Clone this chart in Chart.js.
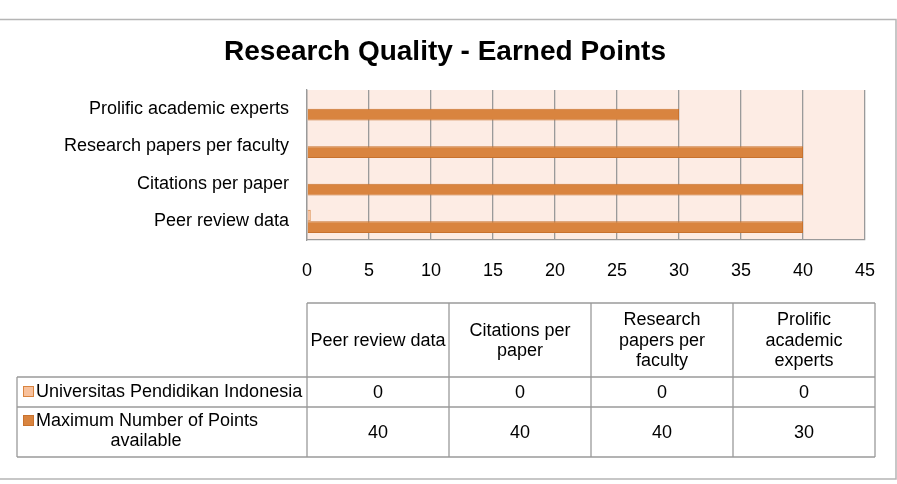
<!DOCTYPE html>
<html>
<head>
<meta charset="utf-8">
<script src="https://cdn.jsdelivr.net/npm/chart.js@4/dist/chart.umd.min.js"></script>
<style>
  html, body { margin: 0; padding: 0; background: #fff; }
  canvas { display: block; }
</style>
</head>
<body>
<canvas id="c" width="897" height="484"></canvas>
<script>
// ---- Data ----
const categories = ["Peer review data", "Citations per paper", "Research papers per faculty", "Prolific academic experts"];
const tableHeaders = [["Peer review data"], ["Citations per", "paper"], ["Research", "papers per", "faculty"], ["Prolific", "academic", "experts"]];
const seriesNames = ["Universitas Pendidikan Indonesia", "Maximum Number of Points available"];
const seriesLegendLines = [["Universitas Pendidikan Indonesia"], ["Maximum Number of Points", "available"]];
const upiValues = [0.3, 0, 0, 0];
const maxValues = [40, 40, 40, 30];
const xTicks = [0, 5, 10, 15, 20, 25, 30, 35, 40, 45];

const FONT = '"Liberation Sans", Arial, sans-serif';
const colors = {
  light: '#F8C19C', lightBorder: '#D9843F',
  dark: '#D9843F', darkBorder: '#C8722E',
  plotBg: '#FDECE4', grid: '#9a9a9a', table: '#9a9a9a', frame: '#b5b5b5'
};

const bgPlugin = {
  id: 'bg',
  beforeDraw(chart) {
    const { ctx, chartArea: a } = chart;
    ctx.save();
    ctx.fillStyle = colors.plotBg;
    ctx.fillRect(a.left, a.top, a.right - a.left, a.bottom - a.top);
    ctx.strokeStyle = colors.frame;
    ctx.lineWidth = 1.5;
    ctx.strokeRect(-2, 19.5, 898, 459.5);
    ctx.restore();
  }
};

const tablePlugin = {
  id: 'dataTable',
  afterDraw(chart) {
    const { ctx, chartArea: a } = chart;
    const left = a.left, colW = 142, nCols = categories.length;
    const right = left + colW * nCols;
    const legendLeft = 17;
    const yH = 303, y1 = 377, y2 = 407, y3 = 457;
    ctx.save();
    ctx.strokeStyle = colors.table;
    ctx.lineWidth = 1.3;
    ctx.beginPath();
    ctx.moveTo(left, yH); ctx.lineTo(right, yH);
    ctx.moveTo(legendLeft, y1); ctx.lineTo(right, y1);
    ctx.moveTo(legendLeft, y2); ctx.lineTo(right, y2);
    ctx.moveTo(legendLeft, y3); ctx.lineTo(right, y3);
    for (let i = 0; i <= nCols; i++) {
      const x = left + colW * i;
      ctx.moveTo(x, yH); ctx.lineTo(x, y3);
    }
    ctx.moveTo(legendLeft, y1); ctx.lineTo(legendLeft, y3);
    ctx.stroke();

    ctx.fillStyle = '#000';
    ctx.font = '18px ' + FONT;
    ctx.textAlign = 'center';
    ctx.textBaseline = 'middle';
    tableHeaders.forEach((lines, i) => {
      const cx = left + colW * i + colW / 2;
      const cy = (yH + y1) / 2 + 1;
      const lh = 20.5;
      lines.forEach((ln, j) => {
        ctx.fillText(ln, cx, cy + (j - (lines.length - 1) / 2) * lh);
      });
    });
    const rows = [upiValues, maxValues];
    const rowCenters = [(y1 + y2) / 2 + 1, (y2 + y3) / 2 + 1];
    rows.forEach((vals, r) => {
      vals.forEach((v, i) => {
        ctx.fillText(String(Math.round(v)), left + colW * i + colW / 2, rowCenters[r]);
      });
    });
    const sw = [[colors.light, colors.lightBorder], [colors.dark, colors.darkBorder]];
    const firstLineY = [392, 421];
    seriesLegendLines.forEach((lines, r) => {
      ctx.fillStyle = sw[r][0];
      ctx.strokeStyle = sw[r][1];
      ctx.lineWidth = 1;
      ctx.fillRect(23, firstLineY[r] - 6, 10, 10);
      ctx.strokeRect(23.5, firstLineY[r] - 5.5, 10, 10);
      ctx.fillStyle = '#000';
      lines.forEach((ln, j) => {
        if (j === 0) {
          ctx.textAlign = 'left';
          ctx.fillText(ln, 36, firstLineY[r]);
        } else {
          ctx.textAlign = 'center';
          ctx.fillText(ln, 146, firstLineY[r] + 20 * j);
        }
      });
    });
    ctx.restore();
  }
};

new Chart(document.getElementById('c'), {
  type: 'bar',
  data: {
    labels: categories,
    datasets: [
      { label: seriesNames[0], data: upiValues, backgroundColor: colors.light, borderColor: colors.lightBorder, borderWidth: 1 },
      { label: seriesNames[1], data: maxValues, backgroundColor: colors.dark, borderColor: colors.darkBorder, borderWidth: 1 }
    ]
  },
  options: {
    indexAxis: 'y',
    responsive: false,
    animation: false,
    events: [],
    layout: { padding: { left: 25, right: 32, top: 0, bottom: 194 } },
    datasets: { bar: { categoryPercentage: 0.62, barPercentage: 1.0 } },
    plugins: {
      legend: { display: false },
      tooltip: { enabled: false },
      title: {
        display: true,
        text: 'Research Quality - Earned Points',
        color: '#000',
        font: { family: FONT, size: 28, weight: 'bold', lineHeight: 1.2 },
        padding: { top: 35, bottom: 21.4 }
      }
    },
    scales: {
      x: {
        min: 0, max: 45,
        afterBuildTicks(scale) { scale.ticks = xTicks.map(v => ({ value: v })); },
        grid: { color: colors.grid, lineWidth: 1.3, drawTicks: false },
        border: { display: true, color: colors.grid, width: 1.3 },
        ticks: { color: '#000', font: { family: FONT, size: 18 }, padding: 20, maxRotation: 0 },
        afterFit(scale) { scale.height = 50; }
      },
      y: {
        reverse: true,
        grid: { display: false, drawTicks: false },
        border: { display: true, color: colors.grid, width: 1.3 },
        ticks: { color: '#000', font: { family: FONT, size: 18 }, padding: 18 },
        afterFit(scale) { scale.width = 282; }
      }
    }
  },
  plugins: [bgPlugin, tablePlugin]
});
</script>
</body>
</html>
